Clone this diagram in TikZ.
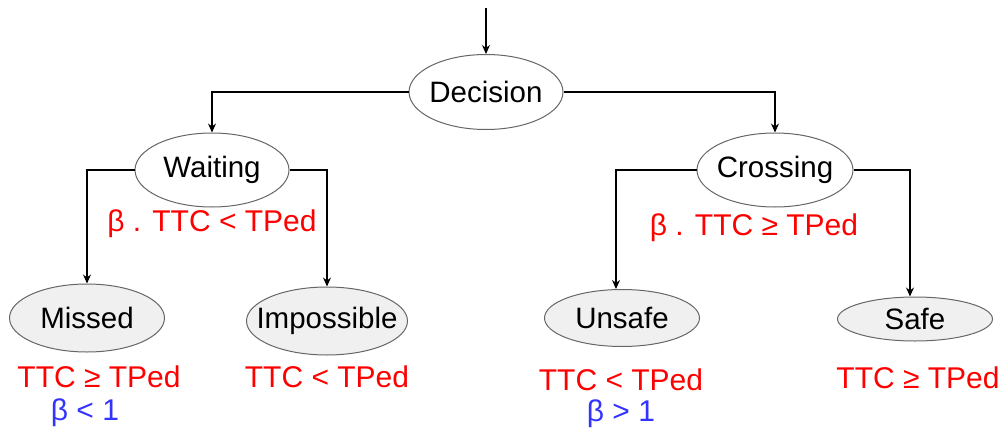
\documentclass[tikz,border=0pt]{standalone}
\usepackage{fontspec}
\setmainfont{Liberation Sans}
\usetikzlibrary{shapes.geometric,arrows.meta}
\definecolor{edgegray}{HTML}{666666}
\definecolor{lightfill}{HTML}{F0F0F0}
\definecolor{lblred}{HTML}{FF0000}
\definecolor{lblblue}{HTML}{3333FF}
\newcommand{\zw}[1]{\makebox[0pt]{#1}}
\tikzset{
  ell/.style={ellipse,draw=edgegray,line width=1pt,inner sep=0pt,font=\fontsize{29.5}{32}\selectfont},
  white/.style={fill=white},
  grayf/.style={fill=lightfill},
  conn/.style={line width=1.2pt,-{Stealth[length=9pt,width=8pt]}},
  red lbl/.style={text=lblred,font=\fontsize{30}{32}\selectfont,inner sep=0pt},
  blue lbl/.style={text=lblblue,font=\fontsize{30}{32}\selectfont,inner sep=0pt},
}
\begin{document}
\begin{tikzpicture}[x=1pt,y=-1pt]
\useasboundingbox (0,0) rectangle (1005,434);
% nodes
\node[ell,white,minimum width=154pt,minimum height=75pt] (dec) at (486,92) {\zw{Decision}};
\node[ell,white,minimum width=154pt,minimum height=74pt] (wait) at (212,170) {\zw{Waiting}};
\node[ell,white,minimum width=156pt,minimum height=74pt] (cross) at (775,170) {\zw{Crossing}};
\node[ell,grayf,minimum width=155pt,minimum height=68pt] (miss) at (87,318) {\zw{Missed}};
\node[ell,grayf,minimum width=161pt,minimum height=68pt] (imp) at (327,321) {\zw{Impossible}};
\node[ell,grayf,minimum width=155pt,minimum height=57pt] (unsafe) at (622,318) {\zw{Unsafe}};
\node[ell,grayf,minimum width=155pt,minimum height=44pt] (safe) at (915,319) {\zw{Safe}};
\coordinate (top) at (486,8);
% connectors
\draw[conn] (top) -- (dec.north);
\draw[conn] (dec.west) -| (wait.north);
\draw[conn] (dec.east) -| (cross.north);
\draw[conn] (wait.west) -| (miss.north);
\draw[conn] (wait.east) -| (imp.north);
\draw[conn] (cross.west) -| ([xshift=-6pt]unsafe.north);
\draw[conn] (cross.east) -| ([xshift=-5pt]safe.north);
% labels
\node[red lbl] (lw) at (212,224) {β . TTC < TPed};
\node[red lbl] (lc) at (754,228) {β . TTC ≥ TPed};
\node[red lbl] (lm) at (99,377) {TTC ≥ TPed};
\node[blue lbl] (bm) at (85,413) {β < 1};
\node[red lbl] (li) at (327,377) {TTC < TPed};
\node[red lbl] (lu) at (621,380) {TTC < TPed};
\node[blue lbl] (bu) at (621,414) {β > 1};
\node[red lbl] (ls) at (918,378) {TTC ≥ TPed};
\end{tikzpicture}
\end{document}
